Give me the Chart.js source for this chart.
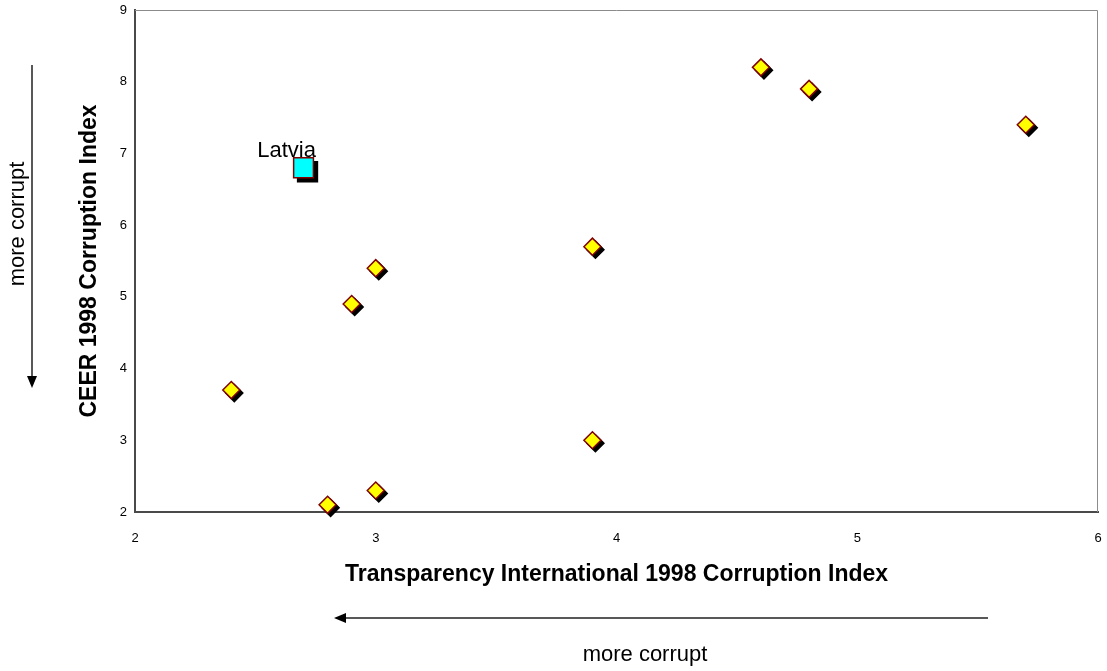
<!DOCTYPE html>
<html>
<head>
<meta charset="utf-8">
<script src="https://cdn.jsdelivr.net/npm/chart.js@4"></script>
<style>
  html, body { margin: 0; padding: 0; background: #fff; }
  canvas { display: block; }
</style>
</head>
<body>
<canvas id="chart" width="1107" height="671"></canvas>
<script>
// Valeurs
const tiScores = [2.4, 2.8, 3.0, 2.9, 3.0, 3.9, 3.9, 4.6, 4.8, 5.7];
const ceerScores = [3.7, 2.1, 2.3, 4.9, 5.4, 5.7, 3.0, 8.2, 7.9, 7.4];
const latviaTi = [2.7];
const latviaCeer = [6.8];
const xTicks = [2, 3, 4, 5, 6];
const yTicks = [2, 3, 4, 5, 6, 7, 8, 9];

const FONT = "'Liberation Sans', Arial, sans-serif";

function toPoints(xs, ys) {
    return xs.map((x, i) => ({ x: x, y: ys[i] }));
}

// Ombre noire décalée sous les marqueurs (dessinée avant chaque série)
const shadowPlugin = {
    id: 'shadow',
    beforeDatasetDraw(chart, args) {
        const ctx = chart.ctx;
        const ds = chart.data.datasets[args.index];
        const off = args.index === 1 ? 4 : 3;
        ctx.save();
        ctx.fillStyle = '#000';
        ctx.strokeStyle = '#000';
        ctx.lineWidth = ds.borderWidth;
        args.meta.data.forEach(el => {
            Chart.helpers.drawPoint(ctx, {
                pointStyle: ds.pointStyle,
                radius: ds.radius,
                rotation: 0,
                borderWidth: ds.borderWidth
            }, el.x + off, el.y + off);
        });
        ctx.restore();
    }
};

function arrowHead(ctx, x, y, dir) {
    ctx.beginPath();
    if (dir === 'down') {
        ctx.moveTo(x, y);
        ctx.lineTo(x - 5, y - 12);
        ctx.lineTo(x + 5, y - 12);
    } else {
        ctx.moveTo(x, y);
        ctx.lineTo(x + 12, y - 5);
        ctx.lineTo(x + 12, y + 5);
    }
    ctx.closePath();
    ctx.fill();
}

// Cadre, étiquette Lettonie, flèches et textes
const decorPlugin = {
    id: 'decor',
    beforeDatasetsDraw(chart) {
        const { ctx, chartArea: a } = chart;
        ctx.save();
        ctx.strokeStyle = '#8c8c8c';
        ctx.lineWidth = 1;
        ctx.beginPath();
        ctx.moveTo(a.left, a.top + 0.5);
        ctx.lineTo(a.right - 0.5, a.top + 0.5);
        ctx.lineTo(a.right - 0.5, a.bottom);
        ctx.stroke();
        ctx.restore();
    },
    afterDraw(chart) {
        const { ctx, scales } = chart;
        ctx.save();
        ctx.fillStyle = '#000';
        ctx.font = '22px ' + FONT;
        ctx.textAlign = 'center';
        ctx.textBaseline = 'middle';

        const px = scales.x.getPixelForValue(latviaTi[0]);
        const py = scales.y.getPixelForValue(latviaCeer[0]);
        ctx.fillText('Latvia', px - 17, py - 17);

        ctx.fillText('more corrupt', 645, 655);

        ctx.save();
        ctx.translate(18, 224);
        ctx.rotate(-Math.PI / 2);
        ctx.fillText('more corrupt', 0, 0);
        ctx.restore();

        ctx.strokeStyle = '#222';
        ctx.lineWidth = 1.5;
        ctx.beginPath();
        ctx.moveTo(32, 65);
        ctx.lineTo(32, 378);
        ctx.moveTo(988, 618);
        ctx.lineTo(344, 618);
        ctx.stroke();
        arrowHead(ctx, 32, 388, 'down');
        arrowHead(ctx, 334, 618, 'left');
        ctx.restore();
    }
};

new Chart(document.getElementById('chart'), {
    type: 'scatter',
    data: {
        datasets: [{
            data: toPoints(tiScores, ceerScores),
            pointStyle: 'rectRot',
            radius: 8.5,
            backgroundColor: '#ffff00',
            borderColor: '#800000',
            borderWidth: 1.5,
            clip: false
        }, {
            data: toPoints(latviaTi, latviaCeer),
            pointStyle: 'rect',
            radius: 14,
            backgroundColor: '#00ffff',
            borderColor: '#800000',
            borderWidth: 1.5,
            clip: false
        }]
    },
    options: {
        responsive: false,
        animation: false,
        maintainAspectRatio: false,
        layout: { autoPadding: false, padding: { top: 10, right: 9, left: 0, bottom: 0 } },
        plugins: {
            legend: { display: false },
            tooltip: { enabled: false }
        },
        scales: {
            x: {
                type: 'linear',
                min: 2,
                max: 6,
                afterBuildTicks: (scale) => { scale.ticks = xTicks.map(v => ({ value: v })); },
                afterFit: (scale) => {
                    scale.height = 159;
                    scale.paddingLeft = 0;
                    scale.paddingRight = 0;
                },
                ticks: { color: '#000', font: { size: 13, family: FONT }, padding: 19 },
                grid: { display: false, drawTicks: false },
                border: { color: '#4a4a4a', width: 2 },
                title: {
                    display: true,
                    text: 'Transparency International 1998 Corruption Index',
                    color: '#000',
                    font: { size: 23, weight: 'bold', family: FONT },
                    padding: { top: 0, bottom: 83 }
                }
            },
            y: {
                type: 'linear',
                min: 2,
                max: 9,
                afterBuildTicks: (scale) => { scale.ticks = yTicks.map(v => ({ value: v })); },
                afterFit: (scale) => {
                    scale.width = 135;
                    scale.paddingTop = 0;
                    scale.paddingBottom = 0;
                },
                ticks: { color: '#000', font: { size: 13, family: FONT }, padding: 8 },
                grid: { display: false, drawTicks: false },
                border: { color: '#4a4a4a', width: 2 },
                title: {
                    display: true,
                    text: 'CEER 1998 Corruption Index',
                    color: '#000',
                    font: { size: 23, weight: 'bold', family: FONT },
                    padding: { top: 76, bottom: 0 }
                }
            }
        }
    },
    plugins: [shadowPlugin, decorPlugin]
});
</script>
</body>
</html>
